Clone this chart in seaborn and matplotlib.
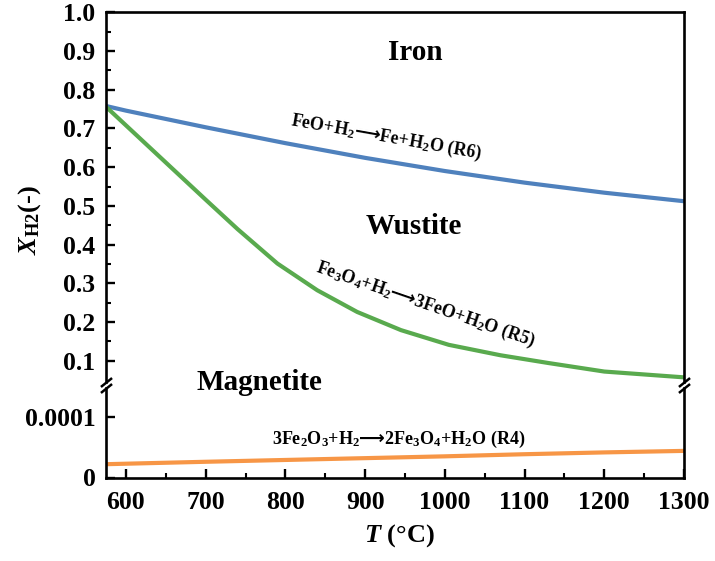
import matplotlib
matplotlib.use("Agg")
import matplotlib.pyplot as plt
import seaborn as sns
import numpy as np
import pandas as pd

# ---- data ----
T_r6 = [575, 600, 700, 800, 900, 1000, 1100, 1200, 1300]
X_r6 = [0.758, 0.746, 0.703, 0.662, 0.624, 0.590, 0.560, 0.534, 0.512]

T_r5 = [575, 650, 700, 740, 790, 840, 890, 945, 1005, 1070, 1130, 1200, 1300]
X_r5 = [0.756, 0.612, 0.516, 0.440, 0.351, 0.282, 0.226, 0.179, 0.141, 0.114, 0.094, 0.072, 0.057]

T_r4 = [575, 700, 800, 900, 1000, 1100, 1200, 1300]
X_r4 = [2.2e-5, 2.6e-5, 2.9e-5, 3.2e-5, 3.5e-5, 3.85e-5, 4.15e-5, 4.4e-5]

upper_ticks = [0.1, 0.2, 0.3, 0.4, 0.5, 0.6, 0.7, 0.8, 0.9, 1.0]
lower_ticks = [0, 0.0001]
lower_tick_labels = ["0", "0.0001"]
x_ticks = [600, 700, 800, 900, 1000, 1100, 1200, 1300]

c_blue = "#4F81BD"
c_green = "#59AA4E"
c_orange = "#F79646"

sns.set_style("ticks")
plt.rcParams["font.family"] = ["Liberation Serif", "DejaVu Sans"]
plt.rcParams["font.weight"] = "bold"
plt.rcParams["text.color"] = "black"
plt.rcParams["axes.labelcolor"] = "black"
plt.rcParams["xtick.color"] = "black"
plt.rcParams["ytick.color"] = "black"
plt.rcParams["mathtext.fontset"] = "custom"
plt.rcParams["mathtext.rm"] = "Liberation Serif:bold"
plt.rcParams["mathtext.it"] = "Liberation Serif:italic:bold"
plt.rcParams["mathtext.bf"] = "Liberation Serif:bold"
plt.rcParams["mathtext.sf"] = "DejaVu Sans"

W, H = 715, 561
fig = plt.figure(figsize=(W / 100, H / 100), dpi=100)
L = 106 / W
R = 684 / W
ax1 = fig.add_axes([L, 1 - 382 / H, R - L, (382 - 12.3) / H])
ax2 = fig.add_axes([L, 1 - 477.5 / H, R - L, (477.5 - 388) / H])

df6 = pd.DataFrame({"T": T_r6, "X": X_r6})
df5 = pd.DataFrame({"T": T_r5, "X": X_r5})
df4 = pd.DataFrame({"T": T_r4, "X": X_r4})

lw = 3.0
sns.lineplot(data=df6, x="T", y="X", ax=ax1, color=c_blue, lw=lw)
sns.lineplot(data=df5, x="T", y="X", ax=ax1, color=c_green, lw=lw)
sns.lineplot(data=df4, x="T", y="X", ax=ax2, color=c_orange, lw=lw)

for ax in (ax1, ax2):
    ax.set_xlim(575, 1300)
    ax.set_xlabel("")
    ax.set_ylabel("")
    for s in ax.spines.values():
        s.set_linewidth(1.9)
        s.set_color("black")
    ax.tick_params(direction="in", which="major", length=6.5, width=1.7,
                   labelsize=18.5, right=False, top=False, colors="black")
    ax.tick_params(direction="in", which="minor", length=3.5, width=1.5,
                   right=False, top=False, colors="black")

ax1.set_ylim(0.045, 1.0)
ax1.set_yticks(upper_ticks)
ax1.set_yticklabels([f"{v:.1f}" for v in upper_ticks], fontweight="bold")
ax1.set_yticks([0.15, 0.25, 0.35, 0.45, 0.55, 0.65, 0.75, 0.85, 0.95], minor=True)
ax1.spines["bottom"].set_visible(False)
ax1.tick_params(axis="x", which="both", bottom=False, labelbottom=False)
ax1.tick_params(axis="y", pad=7.5)

ax2.set_ylim(0, 0.000148)
ax2.set_yticks(lower_ticks)
ax2.set_yticklabels(lower_tick_labels, fontweight="bold")
ax2.spines["top"].set_visible(False)
ax2.set_xticks(x_ticks)
ax2.set_xticklabels([str(v) for v in x_ticks], fontweight="bold")
ax2.set_xticks([650, 750, 850, 950, 1050, 1150, 1250], minor=True)
ax2.tick_params(axis="x", pad=10)
ax2.tick_params(axis="y", pad=7.5)

# break marks
d = 0.8
kw = dict(marker=[(-1, -d), (1, d)], markersize=8, linestyle="none",
          color="k", mec="k", mew=1.8, clip_on=False)
ax1.plot([0, 1], [0, 0], transform=ax1.transAxes, **kw)
ax2.plot([0, 1], [1, 1], transform=ax2.transAxes, **kw)

def fx(px):
    return px / W

def fy(py):
    return 1 - py / H

ARR = "$\\mathsf{\u27f6}$"

fig.text(fx(415), fy(52), "Iron", fontsize=21, fontweight="bold", ha="center", va="center")
fig.text(fx(414), fy(226), "Wustite", fontsize=21, fontweight="bold", ha="center", va="center")
fig.text(fx(259), fy(383), "Magnetite", fontsize=21, fontweight="bold", ha="center", va="center")

fig.text(fx(386), fy(137), "FeO+H$_2$" + ARR + "Fe+H$_2$O (R6)", fontsize=13, fontweight="bold",
         ha="center", va="center", rotation=-10)
fig.text(fx(425), fy(305), "Fe$_3$O$_4$+H$_2$" + ARR + "3FeO+H$_2$O (R5)", fontsize=13,
         fontweight="bold", ha="center", va="center", rotation=-19)
fig.text(fx(399), fy(439), "3Fe$_2$O$_3$+H$_2$" + ARR + "2Fe$_3$O$_4$+H$_2$O (R4)", fontsize=13,
         fontweight="bold", ha="center", va="center")

fig.text(fx(30), fy(220), r"$\mathit{X}_{\mathrm{H2}}$(-)", fontsize=19, fontweight="bold",
         ha="center", va="center", rotation=90)
fig.text(fx(399), fy(536), r"$\mathit{T}$ (°C)", fontsize=19, fontweight="bold",
         ha="center", va="center")

fig.savefig("out.png", dpi=100)
